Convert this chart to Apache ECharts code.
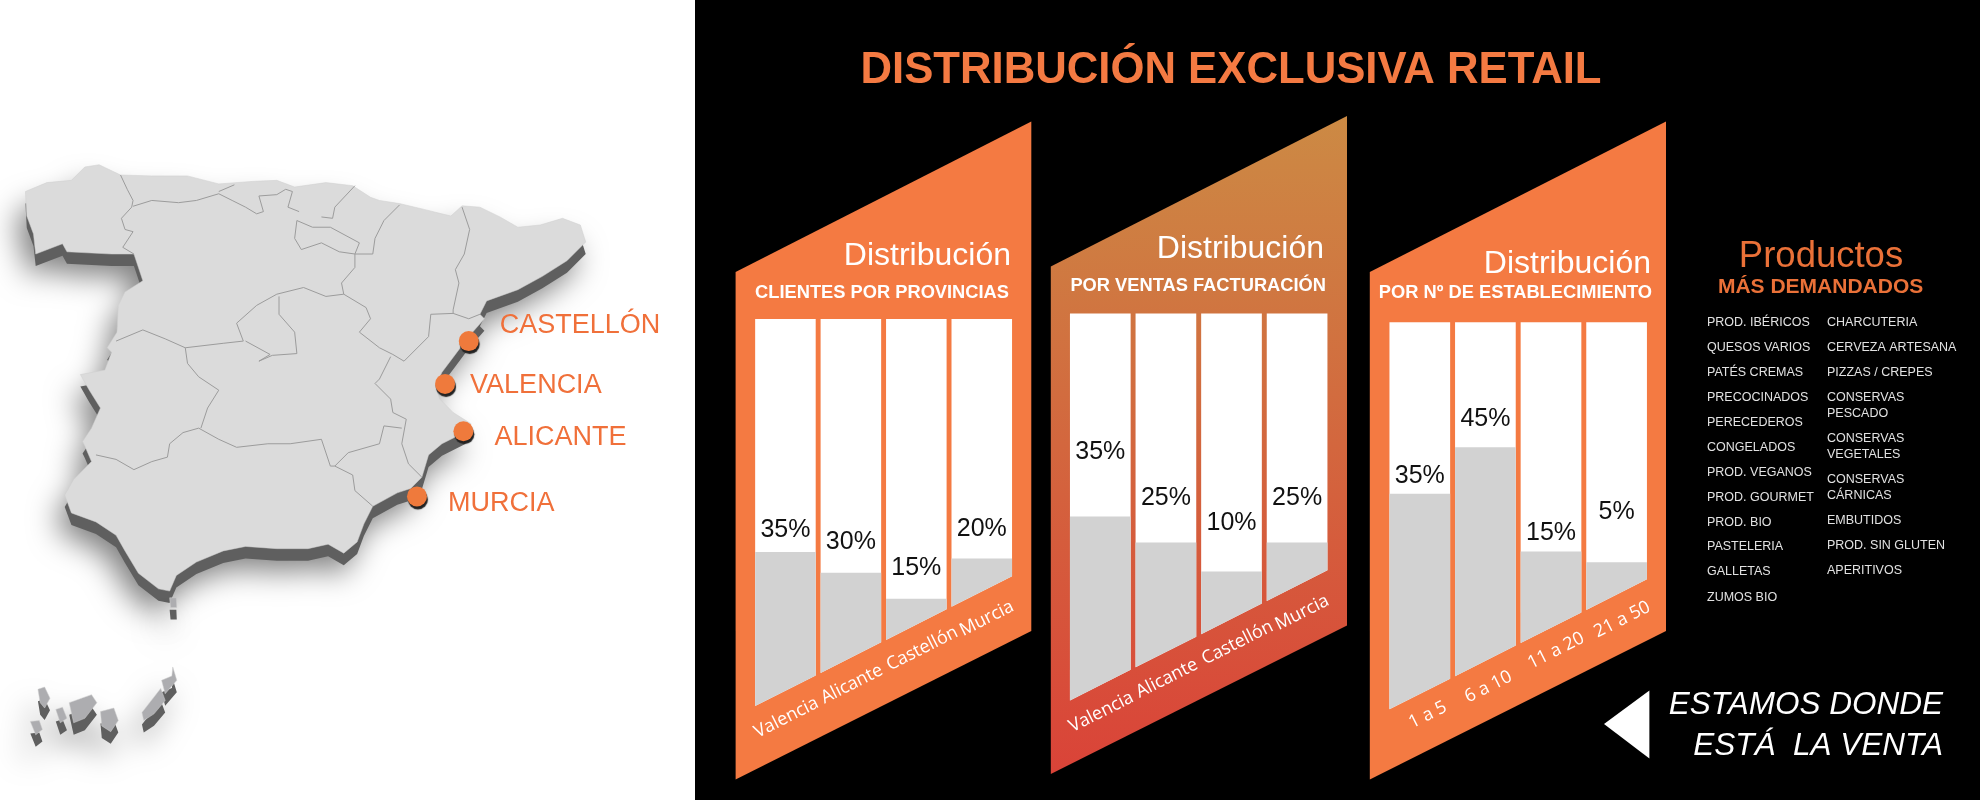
<!DOCTYPE html>
<html>
<head>
<meta charset="utf-8">
<style>
  html, body { margin: 0; padding: 0; background: #fff; }
  #main { width: 1980px; height: 800px; }
</style>
<script src="https://cdn.jsdelivr.net/npm/echarts@6/dist/echarts.min.js"></script>
</head>
<body>
<div id="main"></div>
<script>
// printed percentages, and how high the grey fill really reaches on a 0-100 column scale
// (in the picture the fill does not follow the printed number)
var clientesCats = ['Valencia', 'Alicante', 'Castellón', 'Murcia'];
var clientesVals = [35, 30, 15, 20];
var clientesFill = [39.8, 34.4, 27.7, 38.1];

var ventasCats = ['Valencia', 'Alicante', 'Castellón', 'Murcia'];
var ventasVals = [35, 25, 10, 25];
var ventasFill = [47.5, 40.8, 33.3, 40.8];

var estabCats = ['1 a 5', '6 a 10', '11 a 20', '21 a 50'];
var estabVals = [35, 45, 15, 5];
var estabFill = [55.7, 67.7, 40.8, 38.0];

var cities = ['CASTELLÓN', 'VALENCIA', 'ALICANTE', 'MURCIA'];
var cityCoords = [[1050, 540], [997, 636], [1038, 742], [934, 888]];

var productosA = ['PROD. IBÉRICOS', 'QUESOS VARIOS', 'PATÉS CREMAS', 'PRECOCINADOS', 'PERECEDEROS', 'CONGELADOS',
  'PROD. VEGANOS', 'PROD. GOURMET', 'PROD. BIO', 'PASTELERIA', 'GALLETAS', 'ZUMOS BIO'];
var productosB = ['CHARCUTERIA', 'CERVEZA ARTESANA', 'PIZZAS / CREPES', 'CONSERVAS', 'PESCADO', 'CONSERVAS', 'VEGETALES',
  'CONSERVAS', 'CÁRNICAS', 'EMBUTIDOS', 'PROD. SIN GLUTEN', 'APERITIVOS'];

// layout only, no data from here on
var ORANGE = '#f47a42';
var slope = 0.505;
var filaA = [323, 348, 373, 398, 423, 448, 473, 498, 522.5, 547, 572, 597.5];
var filaB = [323, 348, 373, 398, 413.5, 438.5, 454.5, 479.5, 495.5, 521, 545.5, 570.5];
var cityOffsets = [[0, -16], [-6, 2], [0, 6], [0, 7]];
var regionShift = [[1, 27], [1, 26.5], [6, 24], [5, 27]];
var tramoShift = [[8, 21], [3, 26], [5, 23], [5.6, 25]];
var panels = [
  { cats: clientesCats, vals: clientesVals, fill: clientesFill, left: 752.7, width: 261.8, top: 319, gaps: [22, 31, 31, 29], shift: regionShift },
  { cats: ventasCats, vals: ventasVals, fill: ventasFill, left: 1067.5, width: 262.4, top: 313.4, gaps: [64, 44, 48, 44], shift: regionShift },
  { cats: estabCats, vals: estabVals, fill: estabFill, left: 1387, width: 262.4, top: 322.3, gaps: [18, 28, 18.5, 50], shift: tramoShift }
];

// mapa: coordinates are pixels of a 1568x1568 tracing of the map area
var peninsula = [[57,205],[105,185],[160,180],[190,150],[222,145],[270,168],[340,170],[420,170],[490,188],[570,182],[620,180],
  [660,195],[730,185],[790,192],[830,218],[850,225],[895,232],[950,245],[1010,260],[1035,237],[1075,240],[1120,262],[1160,285],
  [1210,280],[1260,265],[1300,280],[1312,318],[1270,360],[1215,395],[1160,425],[1090,450],[1075,480],[1085,490],[1050,530],
  [1020,570],[990,610],[975,640],[985,670],[1015,700],[1055,725],[1040,745],[990,770],[960,795],[945,845],[920,870],[890,880],
  [835,910],[815,950],[800,990],[770,1015],[735,995],[690,1005],[620,1005],[550,1000],[500,1010],[440,1035],[395,1065],[380,1100],
  [355,1095],[310,1060],[280,1010],[260,975],[215,945],[160,925],[145,885],[165,850],[205,810],[190,775],[185,765],[205,735],
  [225,690],[200,650],[180,615],[235,605],[250,565],[240,555],[262,520],[265,460],[280,430],[320,405],[300,345],[250,345],
  [150,340],[140,322],[80,345],[75,300],[60,260],[57,205]];
var islas = [
  [[85,1320],[100,1315],[112,1340],[100,1362],[90,1350],[85,1320]],
  [[125,1365],[140,1360],[150,1385],[135,1395],[125,1365]],
  [[155,1350],[205,1332],[217,1350],[190,1385],[165,1395],[155,1350]],
  [[225,1370],[255,1362],[265,1390],[248,1415],[228,1402],[225,1370]],
  [[318,1372],[360,1318],[370,1345],[345,1375],[322,1390],[318,1372]],
  [[362,1300],[385,1290],[387,1270],[396,1300],[370,1330],[362,1300]],
  [[68,1392],[88,1390],[95,1410],[80,1422],[68,1392]],
  [[380,1115],[395,1115],[396,1137],[382,1137],[380,1115]]
];
var fronteras = [
  [[270,168],[285,200],[298,225],[295,240],[272,265],[280,290],[298,295],[275,330],[300,345]],
  [[298,238],[340,225],[400,230],[440,225],[490,210],[520,225],[550,240],[575,255],[590,250],[580,215],[620,212],[640,200],[655,205],[645,240],[670,250]],
  [[490,205],[525,190]],
  [[665,270],[700,285],[740,285],[805,320],[795,345],[760,340],[720,320],[675,335],[660,310],[665,270]],
  [[795,192],[750,240],[745,265],[720,262]],
  [[895,235],[860,270],[840,310],[835,345],[795,345]],
  [[1035,240],[1052,290],[1040,345],[1020,380],[1028,410],[1015,470],[1015,478],[1050,490],[1075,480]],
  [[1015,478],[965,480],[960,530],[930,560],[905,585],[880,570]],
  [[795,345],[795,375],[765,410],[770,435],[820,465],[830,490],[805,520],[850,555],[880,570]],
  [[875,575],[850,625],[840,635],[875,670],[880,700],[910,715],[900,770],[915,815],[945,845]],
  [[900,735],[860,730],[850,770],[780,790],[750,820],[790,840],[795,875],[835,910]],
  [[445,735],[490,760],[530,778],[600,770],[650,770],[720,760],[740,820],[750,820]],
  [[445,735],[410,745],[380,770],[375,800],[340,810],[300,828],[260,805],[215,795]],
  [[415,555],[420,590],[445,620],[490,650],[465,690],[450,735]],
  [[260,540],[320,515],[370,535],[415,555],[500,545],[545,540]],
  [[545,540],[530,500],[575,460],[620,435],[680,420],[730,440],[770,435]],
  [[625,440],[625,480],[660,520],[665,568],[610,572],[580,585],[605,570],[550,540]]
];

echarts.registerMap('espana', {
  type: 'FeatureCollection',
  features: [
    { type: 'Feature', properties: { name: 'Peninsula' }, geometry: { type: 'Polygon', coordinates: [peninsula] } },
    { type: 'Feature', properties: { name: 'Islas' }, geometry: { type: 'MultiPolygon', coordinates: islas.map(function (p) { return [p]; }) } }
  ]
});

function geoLayer(top, z, style, regions) {
  return {
    map: 'espana', silent: true, z: z, left: 0, top: top, width: 700, height: 700, aspectScale: 1,
    boundingCoords: [[0, 0], [1568, 1568]],
    projection: { project: function (p) { return p; }, unproject: function (p) { return p; } },
    itemStyle: style, regions: regions || []
  };
}

function drawColumns(params, api) {
  var i = api.value(0);
  var band = api.size([1, 0])[0];
  var w = band * 0.925;
  var first = api.coord([0, 0]);
  var x0 = first[0] - w / 2;
  var c = api.coord([i, 100]);
  var xl = c[0] - w / 2, xr = c[0] + w / 2;
  var baseAt = function (x) { return first[1] - slope * (x - x0); };
  var fillTop = api.coord([i, api.value(1)])[1];
  var p = panels[params.seriesIndex];
  var bm = baseAt(c[0]);
  return {
    type: 'group',
    children: [
      { type: 'polygon', shape: { points: [[xl, c[1]], [xr, c[1]], [xr, baseAt(xr)], [xl, baseAt(xl)]] }, style: { fill: '#fff' } },
      { type: 'polygon', shape: { points: [[xl, fillTop], [xr, fillTop], [xr, baseAt(xr)], [xl, baseAt(xl)]] }, style: { fill: '#d2d2d2' } },
      { type: 'text', style: { text: p.vals[i] + '%', x: c[0], y: fillTop - p.gaps[i], align: 'center', verticalAlign: 'middle',
          fill: '#111', font: '25px "Liberation Sans"' } },
      { type: 'text', x: c[0] + p.shift[i][0], y: bm + p.shift[i][1], rotation: Math.atan(slope),
        style: { text: p.cats[i], x: 0, y: 0, align: 'center', verticalAlign: 'middle', fill: '#fff', font: '18px "Open Sans"' } }
    ]
  };
}

function label(text, x, y, font, color, align) {
  return { type: 'text', z: 20, style: { text: text, x: x, y: y, font: font, fill: color, textAlign: align || 'left', textVerticalAlign: 'middle' } };
}

function panelShape(x0, x1, yOff, fill) {
  return { type: 'polygon', z: -5, shape: { points: [[x0, 272 + yOff], [x1, 121.4 + yOff], [x1, 631 + yOff], [x0, 779.5 + yOff]] }, style: { fill: fill } };
}

var FINE = '12.5px "Liberation Sans"';
var graphics = [
  { type: 'rect', z: -10, shape: { x: 695, y: 0, width: 1285, height: 800 }, style: { fill: '#000' } },
  panelShape(735.6, 1031.3, 0, ORANGE),
  panelShape(1050.8, 1347, -5.5, new echarts.graphic.LinearGradient(0, 0, 0, 1, [
    { offset: 0, color: '#cc8a44' }, { offset: 1, color: '#da4338' }])),
  panelShape(1369.8, 1666, 0, ORANGE),
  { type: 'polygon', z: 20, shape: { points: [[1649.4, 690.6], [1649.4, 758.5], [1604, 724]] }, style: { fill: '#fff' } },
  label('DISTRIBUCIÓN EXCLUSIVA RETAIL', 1231, 70.5, 'bold 43.7px "Liberation Sans"', ORANGE, 'center'),
  label('Distribución', 1011, 256.5, '32px "Liberation Sans"', '#fff', 'right'),
  label('CLIENTES POR PROVINCIAS', 1009, 292.6, 'bold 18.3px "Liberation Sans"', '#fff', 'right'),
  label('Distribución', 1324, 249.5, '32px "Liberation Sans"', '#fff', 'right'),
  label('POR VENTAS FACTURACIÓN', 1326, 286.4, 'bold 18.3px "Liberation Sans"', '#fff', 'right'),
  label('Distribución', 1651, 264, '32px "Liberation Sans"', '#fff', 'right'),
  label('POR Nº DE ESTABLECIMIENTO', 1652, 293, 'bold 18.3px "Liberation Sans"', '#fff', 'right'),
  label('Productos', 1821, 256.5, '36.5px "Liberation Sans"', '#ea7138', 'center'),
  label('MÁS DEMANDADOS', 1820.6, 287.5, 'bold 21px "Liberation Sans"', '#ea7138', 'center'),
  label('ESTAMOS DONDE', 1943, 705.7, 'italic 31.5px "Liberation Sans"', '#fff', 'right'),
  label('ESTÁ  LA VENTA', 1943, 746, 'italic 31.5px "Liberation Sans"', '#fff', 'right')
];
productosA.forEach(function (t, i) { graphics.push(label(t, 1707, filaA[i], FINE, '#e2e2e2')); });
productosB.forEach(function (t, i) { graphics.push(label(t, 1827, filaB[i], FINE, '#e2e2e2')); });

var option = {
  animation: false,
  backgroundColor: '#fff',
  graphic: graphics,
  geo: [
    geoLayer(112, 1, { areaColor: '#5f5f5f', borderWidth: 0, shadowColor: 'rgba(0,0,0,0.5)', shadowBlur: 30, shadowOffsetX: -8, shadowOffsetY: 10 }),
    geoLayer(100, 2, { areaColor: '#dbdbdb', borderColor: '#cfcfcf', borderWidth: 0.5 },
      [{ name: 'Islas', itemStyle: { areaColor: '#adadb0' } }])
  ],
  grid: panels.map(function (p) { return { left: p.left, width: p.width, top: p.top, height: 387 }; }),
  xAxis: panels.map(function (p, i) { return { type: 'category', gridIndex: i, data: p.cats, show: false }; }),
  yAxis: panels.map(function (p, i) { return { type: 'value', gridIndex: i, min: 0, max: 100, show: false }; }),
  series: panels.map(function (p, i) {
    return {
      type: 'custom', xAxisIndex: i, yAxisIndex: i, clip: false, silent: true, z: 5,
      encode: { x: 0, y: 1 },
      renderItem: drawColumns,
      data: p.fill.map(function (v, k) { return [k, v]; })
    };
  }).concat([
    {
      type: 'lines', coordinateSystem: 'geo', geoIndex: 1, polyline: true, silent: true, z: 6,
      lineStyle: { color: '#9c9c9c', width: 1, opacity: 1 },
      data: fronteras.map(function (c) { return { coords: c }; })
    },
    {
      type: 'scatter', coordinateSystem: 'geo', geoIndex: 1, silent: true, z: 7, symbolSize: 20,
      itemStyle: { color: '#ef7a3c', opacity: 1, shadowColor: '#222', shadowBlur: 1, shadowOffsetX: 1, shadowOffsetY: 3 },
      data: cities.map(function (n, i) {
        return {
          name: n, value: cityCoords[i],
          label: { show: true, position: 'right', distance: 21, offset: cityOffsets[i], formatter: '{b}',
            color: '#f0703a', fontFamily: 'Liberation Sans', fontSize: 27 }
        };
      })
    }
  ])
};

var myChart = echarts.init(document.getElementById('main'));
myChart.setOption(option);
</script>
</body>
</html>
